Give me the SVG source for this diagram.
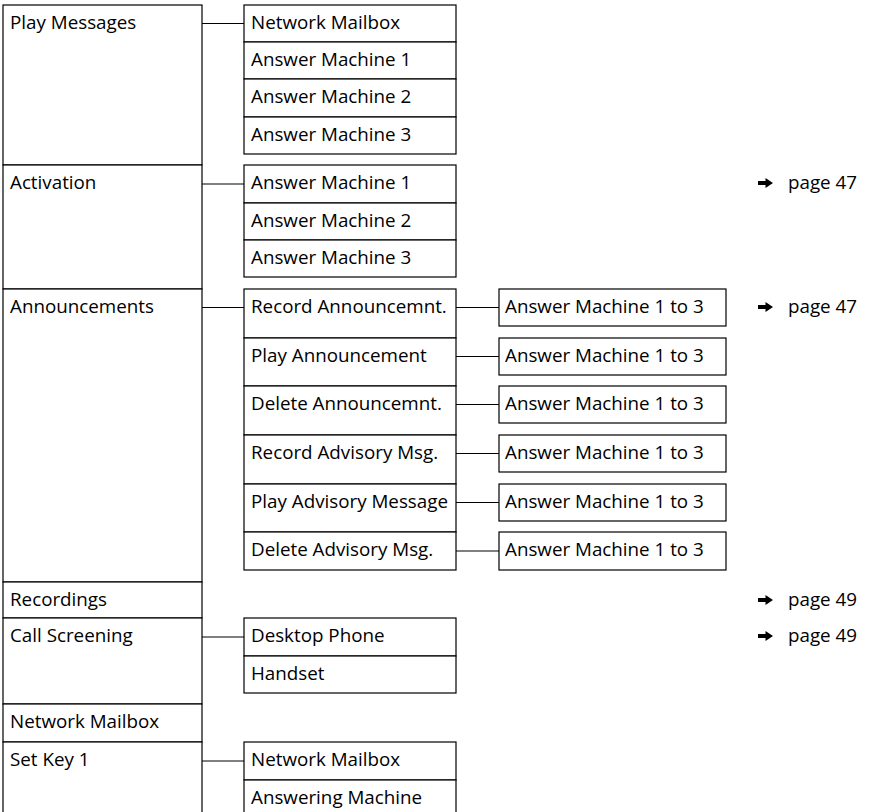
<svg xmlns="http://www.w3.org/2000/svg" width="869" height="812" viewBox="0 0 869 812">
<style>
rect{fill:#fff;stroke:#000;stroke-width:1.2}
text{font-family:"Open Sans","Noto Sans","Liberation Sans",sans-serif;font-size:18.8px;fill:#000}
.c line{stroke:#000;stroke-width:1.2}
.arr{fill:#000}
</style>
<defs>
<path id="arrow" class="arr" d="M0,-1.9 H7.5 V-5 L15,0 L7.5,5 V1.9 H0 Z"/>
</defs>
<g id="connectors" class="c">
<line x1="202" y1="23.5" x2="244" y2="23.5"/>
<line x1="202" y1="184" x2="244" y2="184"/>
<line x1="202" y1="307.5" x2="244" y2="307.5"/>
<line x1="202" y1="637" x2="244" y2="637"/>
<line x1="202" y1="761" x2="244" y2="761"/>
<line x1="456" y1="307.5" x2="499" y2="307.5"/>
<line x1="456" y1="356.5" x2="499" y2="356.5"/>
<line x1="456" y1="404.5" x2="499" y2="404.5"/>
<line x1="456" y1="453.5" x2="499" y2="453.5"/>
<line x1="456" y1="502.5" x2="499" y2="502.5"/>
<line x1="456" y1="551" x2="499" y2="551"/>
</g>
<g id="play-messages"><rect x="3" y="5" width="199" height="160"/><text x="10" y="29">Play Messages</text></g>
<g id="activation"><rect x="3" y="165" width="199" height="124"/><text x="10" y="189">Activation</text></g>
<g id="announcements"><rect x="3" y="289" width="199" height="293"/><text x="10" y="313">Announcements</text></g>
<g id="recordings"><rect x="3" y="582" width="199" height="36"/><text x="10" y="606">Recordings</text></g>
<g id="call-screening"><rect x="3" y="618" width="199" height="86"/><text x="10" y="642">Call Screening</text></g>
<g id="network-mailbox"><rect x="3" y="704" width="199" height="38"/><text x="10" y="728">Network Mailbox</text></g>
<g id="set-key-1"><rect x="3" y="742" width="199" height="75"/><text x="10" y="766">Set Key 1</text></g>

<g id="pm-network-mailbox"><rect x="244" y="5" width="212" height="37"/><text x="251" y="29">Network Mailbox</text></g>
<g id="pm-am1"><rect x="244" y="42" width="212" height="37"/><text x="251" y="66">Answer Machine 1</text></g>
<g id="pm-am2"><rect x="244" y="79" width="212" height="38"/><text x="251" y="103">Answer Machine 2</text></g>
<g id="pm-am3"><rect x="244" y="117" width="212" height="37"/><text x="251" y="141">Answer Machine 3</text></g>

<g id="act-am1"><rect x="244" y="165" width="212" height="38"/><text x="251" y="189">Answer Machine 1</text></g>
<g id="act-am2"><rect x="244" y="203" width="212" height="37"/><text x="251" y="227">Answer Machine 2</text></g>
<g id="act-am3"><rect x="244" y="240" width="212" height="37"/><text x="251" y="264">Answer Machine 3</text></g>

<g id="record-announcemnt"><rect x="244" y="289" width="212" height="49"/><text x="251" y="313">Record Announcemnt.</text></g>
<g id="play-announcement"><rect x="244" y="338" width="212" height="48"/><text x="251" y="362">Play Announcement</text></g>
<g id="delete-announcemnt"><rect x="244" y="386" width="212" height="49"/><text x="251" y="410">Delete Announcemnt.</text></g>
<g id="record-advisory"><rect x="244" y="435" width="212" height="49"/><text x="251" y="459">Record Advisory Msg.</text></g>
<g id="play-advisory"><rect x="244" y="484" width="212" height="48"/><text x="251" y="508">Play Advisory Message</text></g>
<g id="delete-advisory"><rect x="244" y="532" width="212" height="38"/><text x="251" y="556">Delete Advisory Msg.</text></g>

<g id="ra-am"><rect x="499" y="289" width="227" height="37"/><text x="505" y="313">Answer Machine 1 to 3</text></g>
<g id="pa-am"><rect x="499" y="338" width="227" height="37"/><text x="505" y="362">Answer Machine 1 to 3</text></g>
<g id="da-am"><rect x="499" y="386" width="227" height="37"/><text x="505" y="410">Answer Machine 1 to 3</text></g>
<g id="rv-am"><rect x="499" y="435" width="227" height="37"/><text x="505" y="459">Answer Machine 1 to 3</text></g>
<g id="pv-am"><rect x="499" y="484" width="227" height="37"/><text x="505" y="508">Answer Machine 1 to 3</text></g>
<g id="dv-am"><rect x="499" y="532" width="227" height="38"/><text x="505" y="556">Answer Machine 1 to 3</text></g>

<g id="desktop-phone"><rect x="244" y="618" width="212" height="38"/><text x="251" y="642">Desktop Phone</text></g>
<g id="handset"><rect x="244" y="656" width="212" height="37"/><text x="251" y="680">Handset</text></g>

<g id="sk-network-mailbox"><rect x="244" y="742" width="212" height="38"/><text x="251" y="766">Network Mailbox</text></g>
<g id="sk-answering-machine"><rect x="244" y="780" width="212" height="37"/><text x="251" y="804">Answering Machine</text></g>

<g id="ref-activation"><use href="#arrow" x="758" y="183"/><text x="788" y="189">page 47</text></g>
<g id="ref-announcements"><use href="#arrow" x="758" y="307"/><text x="788" y="313">page 47</text></g>
<g id="ref-recordings"><use href="#arrow" x="758" y="600"/><text x="788" y="606">page 49</text></g>
<g id="ref-call-screening"><use href="#arrow" x="758" y="636"/><text x="788" y="642">page 49</text></g>
</svg>
